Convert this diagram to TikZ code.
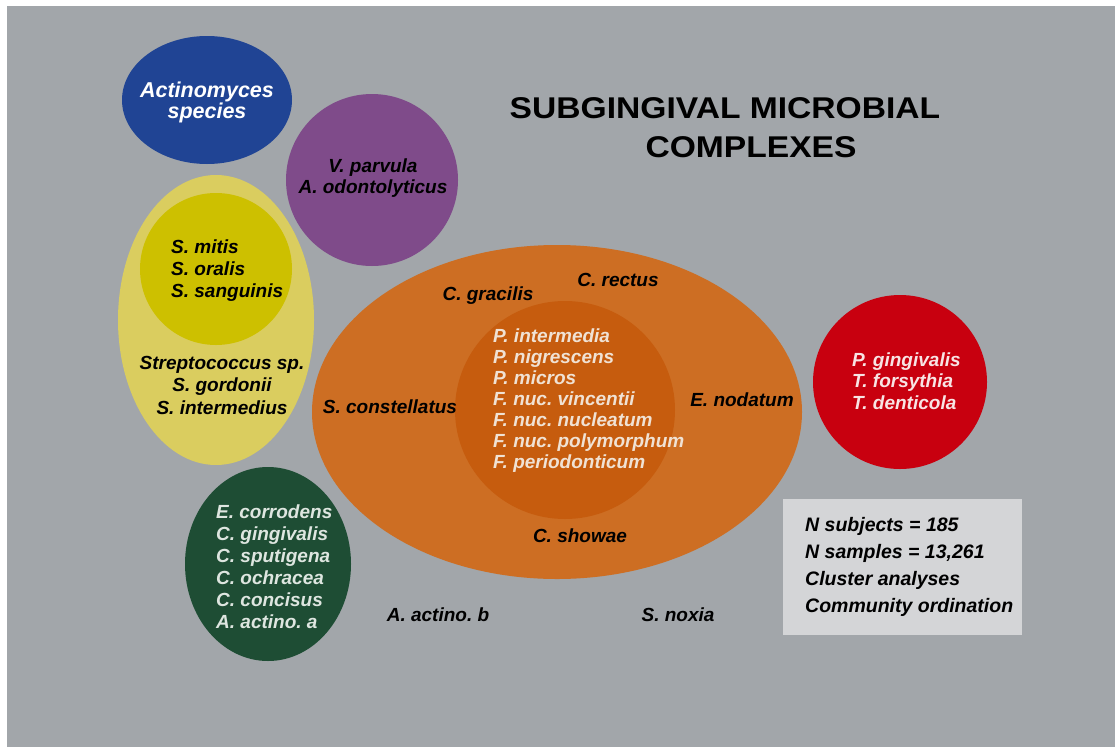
\documentclass[tikz,border=0pt]{standalone}
\usepackage{fontspec}
\setmainfont{Liberation Sans}
\newfontfamily\titlefont[FakeStretch=1.12]{Liberation Sans}
\frenchspacing
\definecolor{bggray}{RGB}{162,166,170}
\definecolor{cblue}{RGB}{32,68,148}
\definecolor{cpurple}{RGB}{127,75,138}
\definecolor{cyelout}{RGB}{218,205,95}
\definecolor{cyelin}{RGB}{205,192,0}
\definecolor{corout}{RGB}{205,110,35}
\definecolor{corin}{RGB}{198,92,14}
\definecolor{cred}{RGB}{200,0,15}
\definecolor{cgreen}{RGB}{30,77,52}
\definecolor{cbox}{RGB}{212,213,215}
\definecolor{ortext}{RGB}{240,226,212}
\definecolor{grtext}{RGB}{222,230,224}
\definecolor{rdtext}{RGB}{248,228,228}
\tikzset{
  sp/.style={inner sep=0pt, font={\frenchspacing\bfseries\itshape\fontsize{19}{22}\selectfont}, text=black},
  label/.style={sp, anchor=base},
}
\begin{document}
\begin{tikzpicture}[x=1pt,y=-1pt]
\useasboundingbox (0,0) rectangle (1115,747);
\fill[white] (0,0) rectangle (1115,747);
\fill[bggray] (7,6) rectangle (1115,747);
% shapes
\fill[cblue] (207,100) ellipse [x radius=85, y radius=64];
\fill[cpurple] (372,180) ellipse [x radius=86, y radius=86];
\fill[cyelout] (216,320) ellipse [x radius=98, y radius=145];
\fill[cyelin] (216,269) ellipse [x radius=76, y radius=76];
\fill[corout] (557,412) ellipse [x radius=245, y radius=167];
\fill[corin] (565,410) ellipse [x radius=110, y radius=109];
\fill[cred] (900,382) ellipse [x radius=87, y radius=87];
\fill[cgreen] (268,564) ellipse [x radius=83, y radius=97];
\node[fill=cbox, minimum width=239, minimum height=136, anchor=north west, inner sep=0pt] (box) at (783,499) {};
% title
\node[inner sep=0pt, font={\titlefont\bfseries\fontsize{30}{36}\selectfont}] (t1) at (725,108) {SUBGINGIVAL MICROBIAL};
\node[inner sep=0pt, font={\titlefont\bfseries\fontsize{30}{36}\selectfont}] (t2) at (751,147) {COMPLEXES};
% texts
\node[sp, font={\frenchspacing\bfseries\itshape\fontsize{21.5}{20}\selectfont}, text=white, align=center] (blue) at (207,102) {Actinomyces\\species};
\node[sp, align=center, font={\frenchspacing\bfseries\itshape\fontsize{19}{21}\selectfont}] (purple) at (373,178) {V. parvula\\A. odontolyticus};
\node[sp, align=left, anchor=west] (yin) at (171,271) {S. mitis\\S. oralis\\S. sanguinis};
\node[sp, align=center, font={\frenchspacing\bfseries\itshape\fontsize{19}{22.5}\selectfont}] (yout) at (222,385) {Streptococcus sp.\\S. gordonii\\S. intermedius};
\node[sp, align=left, anchor=west, text=ortext, font={\frenchspacing\bfseries\itshape\fontsize{19}{21}\selectfont}] (orin) at (493,401) {P. intermedia\\P. nigrescens\\P. micros\\F. nuc. vincentii\\F. nuc. nucleatum\\F. nuc. polymorphum\\F. periodonticum};
\node[sp, align=left, anchor=west, text=rdtext, font={\frenchspacing\bfseries\itshape\fontsize{19}{21.5}\selectfont}] (red) at (852,381) {P. gingivalis\\T. forsythia\\T. denticola};
\node[sp, align=left, anchor=west, text=grtext] (green) at (216,567) {E. corrodens\\C. gingivalis\\C. sputigena\\C. ochracea\\C. concisus\\A. actino. a};
\node[sp, align=left, anchor=west, font={\frenchspacing\bfseries\itshape\fontsize{19.5}{27}\selectfont}] (boxtext) at (805,567) {N subjects = 185\\N samples = 13,261\\Cluster analyses\\Community ordination};
\node[label] (gracilis) at (488,300) {C. gracilis};
\node[label] (rectus) at (618,286) {C. rectus};
\node[label] (constellatus) at (390,413) {S. constellatus};
\node[label] (nodatum) at (742,406) {E. nodatum};
\node[label] (showae) at (580,542) {C. showae};
\node[label] (actinob) at (438,621) {A. actino. b};
\node[label] (noxia) at (678,621) {S. noxia};
\end{tikzpicture}
\end{document}
